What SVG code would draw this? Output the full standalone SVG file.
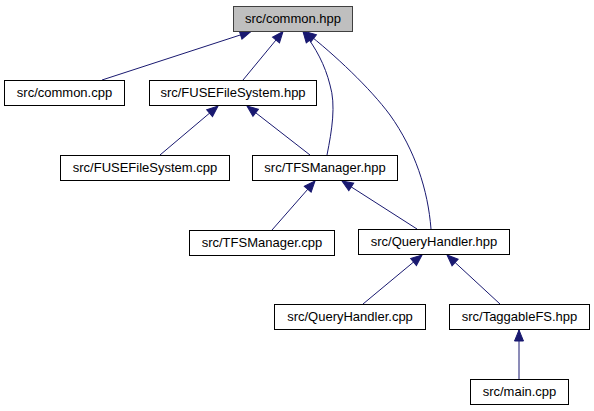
<svg xmlns="http://www.w3.org/2000/svg" width="594" height="411" viewBox="0 0 594 411">
<style>
.n rect{fill:#ffffff;stroke:#000000;stroke-width:1}
#n0 rect{fill:#bfbfbf;stroke:#404040}
.n text{font-family:"Liberation Sans",Arial,sans-serif;font-size:13px;text-anchor:middle;fill:#000000}
.e path{fill:none;stroke:#191970;stroke-width:1;marker-end:url(#ah)}
</style>
<defs>
<marker id="ah" markerWidth="14" markerHeight="12" refX="12" refY="6" orient="auto" markerUnits="userSpaceOnUse">
<path d="M1,1.5 L12,6 L1,10.5 Z" fill="#191970" stroke="#191970" stroke-width="1"/>
</marker>
</defs>
<rect width="594" height="411" fill="#ffffff"/>
<g id="edges" class="e">
<path d="M102,80 L251,31.5"/>
<path d="M243,80 L283,31.5"/>
<path d="M327,155 C332,130 336,105 330,85 C325,65 316,48 303,31.5"/>
<path d="M431,229 C428,190 415,150 390,115 C370,88 335,55 305,31.5"/>
<path d="M160,155 L218,106"/>
<path d="M310,155 L247,106"/>
<path d="M272,230 L315,181"/>
<path d="M417,229 L342,181"/>
<path d="M363,304 L422,255"/>
<path d="M500,304 L447,255"/>
<path d="M519,379 L519,330"/>
</g>
<g id="n0" class="n"><rect x="233.5" y="6.5" width="119" height="25"/><text x="293" y="23">src/common.hpp</text></g>
<g id="n1" class="n"><rect x="4.5" y="80.5" width="120" height="25"/><text x="64.5" y="97">src/common.cpp</text></g>
<g id="n2" class="n"><rect x="149.5" y="80.5" width="167" height="25"/><text x="233" y="97">src/FUSEFileSystem.hpp</text></g>
<g id="n3" class="n"><rect x="60.5" y="155.5" width="169" height="25"/><text x="145" y="172">src/FUSEFileSystem.cpp</text></g>
<g id="n4" class="n"><rect x="252.5" y="155.5" width="145" height="25"/><text x="325" y="172">src/TFSManager.hpp</text></g>
<g id="n5" class="n"><rect x="189.5" y="230.5" width="145" height="25"/><text x="262" y="247">src/TFSManager.cpp</text></g>
<g id="n6" class="n"><rect x="358.5" y="229.5" width="151" height="25"/><text x="434" y="246">src/QueryHandler.hpp</text></g>
<g id="n7" class="n"><rect x="274.5" y="304.5" width="151" height="25"/><text x="350" y="321">src/QueryHandler.cpp</text></g>
<g id="n8" class="n"><rect x="449.5" y="304.5" width="140" height="25"/><text x="519.5" y="321">src/TaggableFS.hpp</text></g>
<g id="n9" class="n"><rect x="470.5" y="379.5" width="98" height="25"/><text x="519.5" y="396">src/main.cpp</text></g>
</svg>
